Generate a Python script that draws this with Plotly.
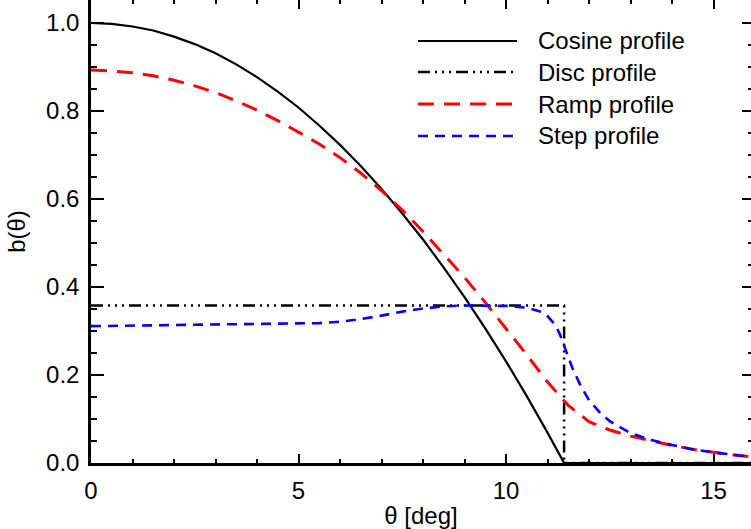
import plotly.graph_objects as go

# ---- data ----
theta_cos = [0, 0.5, 1, 1.5, 2, 2.5, 3, 3.5, 4, 4.5, 5, 5.5, 6, 6.5, 7, 7.5, 8, 8.5,
             9, 9.5, 10, 10.5, 11, 11.2, 11.4, 12, 13, 14, 15, 16]
b_cos = [1.000, 0.998, 0.992, 0.983, 0.969, 0.952, 0.931, 0.906, 0.877, 0.844, 0.808,
         0.767, 0.723, 0.675, 0.623, 0.567, 0.508, 0.444, 0.377, 0.306, 0.231, 0.152,
         0.069, 0.035, 0.0, 0.0, 0.0, 0.0, 0.0, 0.0]

theta_disc = [0, 11.4, 11.4, 16]
b_disc = [0.358, 0.358, 0.0, 0.0]

theta_ramp = [0, 0.5, 1, 1.5, 2, 2.5, 3, 3.5, 4, 4.5, 5, 5.5, 6, 6.5, 7, 7.5, 8, 8.5,
              9, 9.5, 10, 10.5, 11, 11.5, 12, 12.5, 13, 13.5, 14, 14.5, 15, 15.5, 16]
b_ramp = [0.893, 0.891, 0.887, 0.880, 0.870, 0.857, 0.842, 0.823, 0.802, 0.778, 0.752,
          0.725, 0.694, 0.659, 0.619, 0.575, 0.526, 0.475, 0.422, 0.365, 0.306, 0.246,
          0.184, 0.131, 0.094, 0.075, 0.061, 0.050, 0.040, 0.031, 0.024, 0.018, 0.013]

theta_step = [0, 1, 2, 3, 4, 5, 5.5, 6, 6.5, 7, 7.5, 8, 8.5, 9, 9.5, 10, 10.5, 10.8,
              11, 11.2, 11.3, 11.4, 11.5, 11.6, 11.8, 12, 12.25, 12.5, 13, 13.5, 14,
              14.5, 15, 15.5, 16]
b_step = [0.311, 0.312, 0.314, 0.315, 0.316, 0.317, 0.318, 0.321, 0.327, 0.335, 0.344,
          0.351, 0.356, 0.358, 0.358, 0.357, 0.353, 0.345, 0.334, 0.312, 0.292, 0.265,
          0.240, 0.216, 0.175, 0.143, 0.116, 0.095, 0.068, 0.052, 0.041, 0.031, 0.024,
          0.018, 0.013]

names = ["Cosine profile", "Disc profile", "Ramp profile", "Step profile"]
colors = ["black", "black", "#ff0000", "#0000ff"]
dashes = ["solid", "12px,5px,2px,5px,2px,5px,2px,5px", "16px,10px", "10px,7px"]
widths = [2.2, 2.5, 3, 2.6]

x_ticks = [0, 5, 10, 15]
y_ticks = [0.0, 0.2, 0.4, 0.6, 0.8, 1.0]

FONT = "Liberation Sans, Arial, Helvetica, sans-serif"
FS = 24
LEG_FS = 24

fig = go.Figure()
series = [(theta_cos, b_cos), (theta_disc, b_disc), (theta_ramp, b_ramp), (theta_step, b_step)]
for (xs, ys), nm, c, d, w in zip(series, names, colors, dashes, widths):
    fig.add_trace(go.Scatter(x=xs, y=ys, mode="lines", name=nm,
                             line=dict(color=c, dash=d, width=w), showlegend=False))

# invisible trace to drive the right-hand tick axis
fig.add_trace(go.Scatter(x=[0], y=[0], yaxis="y2", mode="markers",
                         marker=dict(opacity=0), showlegend=False, hoverinfo="skip"))

L, T, B = 91, 0, 66
W, H = 751, 529
pw, ph = W - L, H - T - B

# manual legend (long line samples like the reference)
leg_x0, leg_x1, text_x = 418, 517, 536
rows = [41, 72, 104, 136]
for nm, c, d, w, ry in zip(names, colors, dashes, widths, rows):
    yp = 1 - (ry - T) / ph
    fig.add_shape(type="line", xref="paper", yref="paper",
                  x0=(leg_x0 - L) / pw, x1=(leg_x1 - L) / pw, y0=yp, y1=yp,
                  line=dict(color=c, dash=d, width=w))
    fig.add_annotation(xref="paper", yref="paper", x=(text_x - L) / pw, y=yp,
                       text=nm, showarrow=False, xanchor="left", yanchor="middle",
                       font=dict(family=FONT, size=LEG_FS, color="black"))

xmax = (W - L) / 41.5
ymax = (H - B - T) / 440.0

fig.update_layout(
    width=W, height=H,
    margin=dict(l=L, r=0, t=T, b=B, pad=0),
    paper_bgcolor="white", plot_bgcolor="white",
    font=dict(family=FONT, size=FS, color="black"),
    xaxis=dict(range=[0, xmax], tickvals=x_ticks, ticks="inside", ticklen=9, tickwidth=2,
               tickcolor="black", showline=True, linecolor="black", linewidth=2.5,
               mirror="ticks", showgrid=False, zeroline=False,
               minor=dict(dtick=1, ticks="inside", ticklen=4.5, tickwidth=2, tickcolor="black"),
               title=dict(text="θ [deg]", standoff=6, font=dict(size=FS)),
               automargin=False, ticklabelstandoff=4),
    yaxis=dict(range=[0, ymax], tickvals=y_ticks, tickformat=".1f", ticks="inside",
               ticklen=13, tickwidth=2, tickcolor="black", showline=True,
               linecolor="black", linewidth=2.5, mirror=False, showgrid=False,
               zeroline=False,
               minor=dict(dtick=0.05, ticks="inside", ticklen=6.5, tickwidth=2, tickcolor="black"),
               title=dict(text="b(θ)", standoff=14, font=dict(size=FS)),
               automargin=False, ticklabelstandoff=4),
    yaxis2=dict(range=[0, ymax], overlaying="y", side="right", tickvals=y_ticks,
                ticks="inside", ticklen=9, tickwidth=2, tickcolor="black",
                showticklabels=False, showline=False, showgrid=False, zeroline=False,
                minor=dict(dtick=0.05, ticks="inside", ticklen=3, tickwidth=2, tickcolor="black"),
                automargin=False),
    showlegend=False,
)

fig.write_html("out.html", config={"displayModeBar": False},
               post_script="document.body.style.margin='0';document.body.style.overflow='hidden';")
